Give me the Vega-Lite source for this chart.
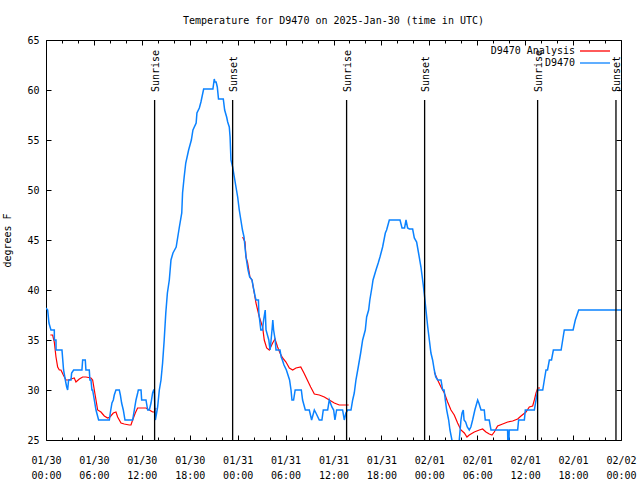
{
  "$schema": "https://vega.github.io/schema/vega-lite/v6.json",
  "width": 575,
  "height": 400,
  "autosize": {"type": "none"},
  "padding": {"left": 46, "top": 40, "right": 19, "bottom": 40},
  "background": "white",
  "title": {"text": "Temperature for D9470 on 2025-Jan-30 (time in UTC)", "font": "DejaVu Sans Mono", "fontSize": 10, "fontWeight": "normal", "color": "black", "offset": 9},
  "config": {
    "view": {"stroke": "black", "strokeWidth": 1},
    "axis": {"domain": false, "grid": false, "tickColor": "black", "labelColor": "black", "labelFont": "DejaVu Sans Mono", "labelFontSize": 10, "titleFont": "DejaVu Sans Mono", "titleFontSize": 10, "titleFontWeight": "normal", "titleColor": "black", "labelFlush": false, "labelOverlap": false},
    "legend": {"orient": "none", "legendX": 544, "legendY": 6, "symbolType": "M-5,0H5", "symbolSize": 36, "symbolStrokeWidth": 1.3, "labelAlign": "right", "labelOffset": -25, "labelFont": "DejaVu Sans Mono", "labelFontSize": 10, "labelColor": "black", "rowPadding": 2, "padding": 0}
  },
  "datasets": {
    "obs": [
      {"hour": 0.0, "temp": 38.2}, {"hour": 0.21, "temp": 38}, {"hour": 0.37, "temp": 36.7}, {"hour": 0.62, "temp": 36}, {"hour": 1.04, "temp": 36}, {"hour": 1.05, "temp": 35}, {"hour": 1.25, "temp": 35}, {"hour": 1.26, "temp": 34}, {"hour": 2.0, "temp": 34}, {"hour": 2.1, "temp": 33}, {"hour": 2.2, "temp": 32}, {"hour": 2.42, "temp": 31}, {"hour": 2.59, "temp": 30.3}, {"hour": 2.71, "temp": 30}, {"hour": 2.83, "temp": 31}, {"hour": 3.13, "temp": 31}, {"hour": 3.21, "temp": 31.7}, {"hour": 3.46, "temp": 32}, {"hour": 4.5, "temp": 32}, {"hour": 4.59, "temp": 33}, {"hour": 4.92, "temp": 33}, {"hour": 5.0, "temp": 32}, {"hour": 5.42, "temp": 32}, {"hour": 5.5, "temp": 31}, {"hour": 5.63, "temp": 31}, {"hour": 5.75, "temp": 30}, {"hour": 5.84, "temp": 30}, {"hour": 6.05, "temp": 29}, {"hour": 6.26, "temp": 28}, {"hour": 6.59, "temp": 27}, {"hour": 7.93, "temp": 27}, {"hour": 8.05, "temp": 27.7}, {"hour": 8.26, "temp": 28.7}, {"hour": 8.43, "temp": 29}, {"hour": 8.55, "temp": 29.5}, {"hour": 8.76, "temp": 30}, {"hour": 9.18, "temp": 30}, {"hour": 9.31, "temp": 29.5}, {"hour": 9.47, "temp": 28.7}, {"hour": 9.68, "temp": 28}, {"hour": 9.89, "temp": 27}, {"hour": 10.85, "temp": 27}, {"hour": 11.06, "temp": 28}, {"hour": 11.27, "temp": 29}, {"hour": 11.48, "temp": 29.7}, {"hour": 11.56, "temp": 30}, {"hour": 11.9, "temp": 30}, {"hour": 11.98, "temp": 29}, {"hour": 12.52, "temp": 29}, {"hour": 12.73, "temp": 28}, {"hour": 12.94, "temp": 28}, {"hour": 13.15, "temp": 28.7}, {"hour": 13.35, "temp": 29.7}, {"hour": 13.48, "temp": 30}, {"hour": 13.56, "temp": 30}, {"hour": 13.69, "temp": 27}, {"hour": 13.85, "temp": 27.7}, {"hour": 13.98, "temp": 28.3}, {"hour": 14.19, "temp": 30}, {"hour": 14.4, "temp": 31}, {"hour": 14.6, "temp": 32.7}, {"hour": 14.8, "temp": 35}, {"hour": 15.0, "temp": 37.7}, {"hour": 15.2, "temp": 39.7}, {"hour": 15.44, "temp": 41}, {"hour": 15.65, "temp": 43}, {"hour": 15.9, "temp": 43.7}, {"hour": 16.3, "temp": 44.3}, {"hour": 16.7, "temp": 46.3}, {"hour": 17.0, "temp": 47.7}, {"hour": 17.1, "temp": 49.7}, {"hour": 17.3, "temp": 51.3}, {"hour": 17.5, "temp": 52.7}, {"hour": 17.86, "temp": 54}, {"hour": 18.2, "temp": 55}, {"hour": 18.4, "temp": 56}, {"hour": 18.8, "temp": 56.7}, {"hour": 18.9, "temp": 57.7}, {"hour": 19.2, "temp": 58.2}, {"hour": 19.4, "temp": 58.8}, {"hour": 19.74, "temp": 60.1}, {"hour": 20.9, "temp": 60.1}, {"hour": 21.07, "temp": 61.1}, {"hour": 21.15, "temp": 60.8}, {"hour": 21.3, "temp": 60.8}, {"hour": 21.45, "temp": 60.3}, {"hour": 21.6, "temp": 59.1}, {"hour": 22.2, "temp": 59.1}, {"hour": 22.37, "temp": 58}, {"hour": 22.62, "temp": 57.3}, {"hour": 22.75, "temp": 56.8}, {"hour": 22.95, "temp": 56.3}, {"hour": 23.05, "temp": 55.3}, {"hour": 23.16, "temp": 53}, {"hour": 23.37, "temp": 52.3}, {"hour": 23.58, "temp": 51.3}, {"hour": 23.79, "temp": 50.3}, {"hour": 24.0, "temp": 49.3}, {"hour": 24.2, "temp": 48}, {"hour": 24.4, "temp": 47}, {"hour": 24.6, "temp": 46}, {"hour": 24.8, "temp": 45.3}, {"hour": 24.95, "temp": 44}, {"hour": 25.1, "temp": 43}, {"hour": 25.3, "temp": 42}, {"hour": 25.5, "temp": 41.3}, {"hour": 25.8, "temp": 41}, {"hour": 25.95, "temp": 40.3}, {"hour": 26.2, "temp": 39.3}, {"hour": 26.3, "temp": 39}, {"hour": 26.6, "temp": 39}, {"hour": 26.65, "temp": 37.7}, {"hour": 26.9, "temp": 36}, {"hour": 27.1, "temp": 36}, {"hour": 27.25, "temp": 37}, {"hour": 27.45, "temp": 38}, {"hour": 27.55, "temp": 36}, {"hour": 27.9, "temp": 35}, {"hour": 28.05, "temp": 34}, {"hour": 28.15, "temp": 34.7}, {"hour": 28.3, "temp": 36}, {"hour": 28.4, "temp": 37}, {"hour": 28.5, "temp": 36}, {"hour": 28.7, "temp": 35}, {"hour": 28.8, "temp": 34}, {"hour": 29.3, "temp": 34}, {"hour": 29.45, "temp": 33.3}, {"hour": 29.6, "temp": 33}, {"hour": 29.8, "temp": 32.5}, {"hour": 30.1, "temp": 32}, {"hour": 30.5, "temp": 31}, {"hour": 30.68, "temp": 30}, {"hour": 30.8, "temp": 29}, {"hour": 31.0, "temp": 29}, {"hour": 31.2, "temp": 30}, {"hour": 31.97, "temp": 30}, {"hour": 32.13, "temp": 29}, {"hour": 32.47, "temp": 28}, {"hour": 32.97, "temp": 28}, {"hour": 33.26, "temp": 27}, {"hour": 33.6, "temp": 28}, {"hour": 33.8, "temp": 27.7}, {"hour": 34.22, "temp": 27}, {"hour": 34.55, "temp": 27}, {"hour": 34.72, "temp": 28}, {"hour": 35.27, "temp": 28}, {"hour": 35.47, "temp": 29}, {"hour": 35.8, "temp": 28.3}, {"hour": 36.02, "temp": 28}, {"hour": 36.18, "temp": 27}, {"hour": 36.39, "temp": 28}, {"hour": 37.14, "temp": 28}, {"hour": 37.35, "temp": 27}, {"hour": 37.55, "temp": 27.7}, {"hour": 37.77, "temp": 28}, {"hour": 38.19, "temp": 28}, {"hour": 38.4, "temp": 29}, {"hour": 38.6, "temp": 29.7}, {"hour": 38.81, "temp": 31}, {"hour": 39.1, "temp": 32.3}, {"hour": 39.4, "temp": 33.7}, {"hour": 39.65, "temp": 35}, {"hour": 39.98, "temp": 36}, {"hour": 40.15, "temp": 37.3}, {"hour": 40.4, "temp": 38}, {"hour": 40.55, "temp": 39}, {"hour": 40.82, "temp": 40.3}, {"hour": 40.95, "temp": 41}, {"hour": 41.32, "temp": 42}, {"hour": 41.6, "temp": 42.7}, {"hour": 41.82, "temp": 43.3}, {"hour": 42.15, "temp": 44.3}, {"hour": 42.49, "temp": 45.7}, {"hour": 42.65, "temp": 46}, {"hour": 42.99, "temp": 47}, {"hour": 44.33, "temp": 47}, {"hour": 44.58, "temp": 46.2}, {"hour": 44.9, "temp": 46.2}, {"hour": 45.08, "temp": 47}, {"hour": 45.28, "temp": 46.2}, {"hour": 45.5, "temp": 46.1}, {"hour": 45.91, "temp": 46.1}, {"hour": 46.12, "temp": 45.2}, {"hour": 46.41, "temp": 44.8}, {"hour": 46.65, "temp": 43.7}, {"hour": 46.95, "temp": 42.3}, {"hour": 47.24, "temp": 40.5}, {"hour": 47.41, "temp": 39.3}, {"hour": 47.58, "temp": 38}, {"hour": 47.8, "temp": 36.3}, {"hour": 48.0, "temp": 35}, {"hour": 48.2, "temp": 33.7}, {"hour": 48.41, "temp": 33}, {"hour": 48.62, "temp": 32}, {"hour": 48.8, "temp": 31.3}, {"hour": 49.04, "temp": 31}, {"hour": 49.46, "temp": 31}, {"hour": 49.67, "temp": 30}, {"hour": 49.85, "temp": 30}, {"hour": 50.0, "temp": 29}, {"hour": 50.17, "temp": 28}, {"hour": 50.42, "temp": 27}, {"hour": 50.58, "temp": 26}, {"hour": 50.83, "temp": 25}, {"hour": 51.0, "temp": 24}, {"hour": 51.6, "temp": 24}, {"hour": 51.75, "temp": 25}, {"hour": 51.96, "temp": 27}, {"hour": 52.1, "temp": 27.7}, {"hour": 52.25, "temp": 28}, {"hour": 52.35, "temp": 27}, {"hour": 52.55, "temp": 26.8}, {"hour": 52.75, "temp": 26.3}, {"hour": 53.0, "temp": 26}, {"hour": 53.2, "temp": 26.3}, {"hour": 53.42, "temp": 27}, {"hour": 53.7, "temp": 28}, {"hour": 54.05, "temp": 29}, {"hour": 54.2, "temp": 28.7}, {"hour": 54.47, "temp": 28}, {"hour": 54.88, "temp": 28}, {"hour": 55.0, "temp": 27}, {"hour": 55.5, "temp": 27}, {"hour": 55.72, "temp": 26}, {"hour": 57.8, "temp": 26}, {"hour": 57.85, "temp": 24}, {"hour": 57.95, "temp": 24}, {"hour": 58.0, "temp": 26}, {"hour": 59.06, "temp": 26}, {"hour": 59.18, "temp": 27}, {"hour": 59.9, "temp": 27}, {"hour": 60.02, "temp": 28}, {"hour": 61.15, "temp": 28}, {"hour": 61.36, "temp": 29}, {"hour": 61.57, "temp": 30}, {"hour": 62.2, "temp": 30}, {"hour": 62.4, "temp": 31}, {"hour": 62.61, "temp": 32}, {"hour": 62.8, "temp": 32}, {"hour": 63.03, "temp": 33}, {"hour": 63.3, "temp": 33}, {"hour": 63.53, "temp": 34}, {"hour": 64.5, "temp": 34}, {"hour": 64.7, "temp": 35}, {"hour": 64.9, "temp": 36}, {"hour": 66.0, "temp": 36}, {"hour": 66.28, "temp": 37}, {"hour": 66.7, "temp": 38}, {"hour": 72.0, "temp": 38}
    ],
    "ana": [
      {"seg": 1, "hour": 0.55, "temp": 35.5}, {"seg": 1, "hour": 0.83, "temp": 35.5}, {"seg": 1, "hour": 1.04, "temp": 34.8}, {"seg": 1, "hour": 1.25, "temp": 33.3}, {"seg": 1, "hour": 1.46, "temp": 32.3}, {"seg": 1, "hour": 1.67, "temp": 32}, {"seg": 1, "hour": 1.87, "temp": 32}, {"seg": 1, "hour": 2.17, "temp": 31.5}, {"seg": 1, "hour": 2.5, "temp": 31}, {"seg": 1, "hour": 2.92, "temp": 31}, {"seg": 1, "hour": 3.13, "temp": 31.1}, {"seg": 1, "hour": 3.54, "temp": 31.2}, {"seg": 1, "hour": 3.75, "temp": 30.8}, {"seg": 1, "hour": 4.17, "temp": 31.1}, {"seg": 1, "hour": 4.59, "temp": 31.3}, {"seg": 1, "hour": 5.0, "temp": 31.3}, {"seg": 1, "hour": 5.63, "temp": 31.2}, {"seg": 1, "hour": 5.84, "temp": 31}, {"seg": 1, "hour": 6.05, "temp": 30}, {"seg": 1, "hour": 6.26, "temp": 29}, {"seg": 1, "hour": 6.47, "temp": 28}, {"seg": 1, "hour": 6.88, "temp": 27.8}, {"seg": 1, "hour": 7.3, "temp": 27.4}, {"seg": 1, "hour": 7.72, "temp": 27.2}, {"seg": 1, "hour": 8.01, "temp": 27.3}, {"seg": 1, "hour": 8.43, "temp": 27.7}, {"seg": 1, "hour": 8.76, "temp": 27.8}, {"seg": 1, "hour": 8.97, "temp": 27.3}, {"seg": 1, "hour": 9.39, "temp": 26.7}, {"seg": 1, "hour": 9.8, "temp": 26.6}, {"seg": 1, "hour": 10.43, "temp": 26.5}, {"seg": 1, "hour": 10.64, "temp": 26.5}, {"seg": 1, "hour": 10.85, "temp": 27}, {"seg": 1, "hour": 11.18, "temp": 27.7}, {"seg": 1, "hour": 11.47, "temp": 28.2}, {"seg": 1, "hour": 12.1, "temp": 28.2}, {"seg": 1, "hour": 12.52, "temp": 28.2}, {"seg": 1, "hour": 12.94, "temp": 28}, {"seg": 1, "hour": 13.35, "temp": 27.8}, {"seg": 1, "hour": 13.56, "temp": 27.8}, {"seg": 1, "hour": 13.77, "temp": 28.2},
      {"seg": 2, "hour": 24.62, "temp": 45.3}, {"seg": 2, "hour": 24.92, "temp": 44.8}, {"seg": 2, "hour": 25.04, "temp": 43.3}, {"seg": 2, "hour": 25.25, "temp": 42.7}, {"seg": 2, "hour": 25.54, "temp": 41.3}, {"seg": 2, "hour": 25.79, "temp": 41}, {"seg": 2, "hour": 26.08, "temp": 39.7}, {"seg": 2, "hour": 26.29, "temp": 38.7}, {"seg": 2, "hour": 26.71, "temp": 37.3}, {"seg": 2, "hour": 27.12, "temp": 36.3}, {"seg": 2, "hour": 27.33, "temp": 35}, {"seg": 2, "hour": 27.63, "temp": 34.2}, {"seg": 2, "hour": 27.96, "temp": 34}, {"seg": 2, "hour": 28.38, "temp": 34.7}, {"seg": 2, "hour": 28.67, "temp": 35.1}, {"seg": 2, "hour": 29.0, "temp": 34.3}, {"seg": 2, "hour": 29.3, "temp": 33.7}, {"seg": 2, "hour": 29.63, "temp": 33.2}, {"seg": 2, "hour": 30.05, "temp": 32.8}, {"seg": 2, "hour": 30.47, "temp": 32.2}, {"seg": 2, "hour": 30.89, "temp": 32}, {"seg": 2, "hour": 31.3, "temp": 32.2}, {"seg": 2, "hour": 31.9, "temp": 32.3}, {"seg": 2, "hour": 32.3, "temp": 31.7}, {"seg": 2, "hour": 32.72, "temp": 31}, {"seg": 2, "hour": 33.14, "temp": 30.3}, {"seg": 2, "hour": 33.6, "temp": 29.6}, {"seg": 2, "hour": 34.22, "temp": 29.5}, {"seg": 2, "hour": 34.85, "temp": 29.3}, {"seg": 2, "hour": 35.47, "temp": 29.0}, {"seg": 2, "hour": 36.1, "temp": 28.7}, {"seg": 2, "hour": 36.72, "temp": 28.5}, {"seg": 2, "hour": 37.9, "temp": 28.5},
      {"seg": 3, "hour": 48.62, "temp": 31.8}, {"seg": 3, "hour": 49.04, "temp": 31}, {"seg": 3, "hour": 49.46, "temp": 30.3}, {"seg": 3, "hour": 49.88, "temp": 29.7}, {"seg": 3, "hour": 50.29, "temp": 28.8}, {"seg": 3, "hour": 50.71, "temp": 28}, {"seg": 3, "hour": 51.12, "temp": 27.5}, {"seg": 3, "hour": 51.54, "temp": 26.7}, {"seg": 3, "hour": 51.96, "temp": 26}, {"seg": 3, "hour": 52.38, "temp": 25.7}, {"seg": 3, "hour": 52.71, "temp": 25.3}, {"seg": 3, "hour": 53.0, "temp": 25.5}, {"seg": 3, "hour": 53.63, "temp": 25.8}, {"seg": 3, "hour": 54.26, "temp": 26}, {"seg": 3, "hour": 54.67, "temp": 26.1}, {"seg": 3, "hour": 55.09, "temp": 25.8}, {"seg": 3, "hour": 55.51, "temp": 25.6}, {"seg": 3, "hour": 55.84, "temp": 25.5}, {"seg": 3, "hour": 56.13, "temp": 25.8}, {"seg": 3, "hour": 56.55, "temp": 26.4}, {"seg": 3, "hour": 57.18, "temp": 26.6}, {"seg": 3, "hour": 57.81, "temp": 26.8}, {"seg": 3, "hour": 58.43, "temp": 26.9}, {"seg": 3, "hour": 59.06, "temp": 27.1}, {"seg": 3, "hour": 59.48, "temp": 27.4}, {"seg": 3, "hour": 60.1, "temp": 27.8}, {"seg": 3, "hour": 60.52, "temp": 28.3}, {"seg": 3, "hour": 60.94, "temp": 28.4}, {"seg": 3, "hour": 61.15, "temp": 29}, {"seg": 3, "hour": 61.36, "temp": 29.7}, {"seg": 3, "hour": 61.57, "temp": 30.2}, {"seg": 3, "hour": 61.86, "temp": 30.2}
    ],
    "sun": [
      {"event": "Sunrise", "hour": 13.6},
      {"event": "Sunset", "hour": 23.37},
      {"event": "Sunrise", "hour": 37.64},
      {"event": "Sunset", "hour": 47.41},
      {"event": "Sunrise", "hour": 61.56},
      {"event": "Sunset", "hour": 71.37}
    ]
  },
  "layer": [
    {
      "data": {"name": "ana"},
      "mark": {"type": "line", "strokeWidth": 1.2, "clip": true},
      "encoding": {
        "x": {"field": "hour", "type": "quantitative", "scale": {"domain": [0, 72], "nice": false, "zero": false},
              "axis": {"orient": "bottom", "values": [0, 6, 12, 18, 24, 30, 36, 42, 48, 54, 60, 66, 72], "tickSize": -5, "labelPadding": 20, "labelLineHeight": 15, "title": null,
                       "labelExpr": "[utcFormat(1738195200000 + datum.value * 3600000, '%m/%d'), utcFormat(1738195200000 + datum.value * 3600000, '%H:%M')]"}},
        "y": {"field": "temp", "type": "quantitative", "scale": {"domain": [25, 65], "nice": false, "zero": false},
              "axis": {"orient": "left", "values": [25, 30, 35, 40, 45, 50, 55, 60, 65], "tickSize": -5, "labelPadding": 12, "title": "degrees F", "titlePadding": 14}},
        "detail": {"field": "seg", "type": "nominal"},
        "color": {"datum": "D9470 Analysis", "scale": {"domain": ["D9470 Analysis", "D9470"], "range": ["#ff0000", "#0a82ff"]}, "legend": {"title": null}}
      }
    },
    {
      "data": {"name": "obs"},
      "mark": {"type": "line", "strokeWidth": 1.5, "clip": true},
      "encoding": {
        "x": {"field": "hour", "type": "quantitative", "axis": {"orient": "top", "values": [0, 6, 12, 18, 24, 30, 36, 42, 48, 54, 60, 66, 72], "tickSize": -5, "labels": false, "title": null}},
        "y": {"field": "temp", "type": "quantitative", "axis": {"orient": "right", "values": [25, 30, 35, 40, 45, 50, 55, 60, 65], "tickSize": -5, "labels": false, "title": null}},
        "color": {"datum": "D9470"}
      }
    },
    {
      "data": {"name": "sun"},
      "mark": {"type": "rule", "color": "black", "strokeWidth": 1.3},
      "encoding": {
        "x": {"field": "hour", "type": "quantitative", "axis": {"orient": "bottom", "values": [2, 4, 8, 10, 14, 16, 20, 22, 26, 28, 32, 34, 38, 40, 44, 46, 50, 52, 56, 58, 62, 64, 68, 70], "tickSize": -3, "labels": false, "title": null}},
        "y": {"datum": 25, "type": "quantitative", "axis": null},
        "y2": {"datum": 59}
      }
    },
    {
      "data": {"name": "sun"},
      "mark": {"type": "text", "angle": 270, "align": "left", "baseline": "middle", "dy": 1.5, "font": "DejaVu Sans Mono", "fontSize": 10, "color": "black"},
      "encoding": {
        "x": {"field": "hour", "type": "quantitative", "axis": {"orient": "top", "values": [2, 4, 8, 10, 14, 16, 20, 22, 26, 28, 32, 34, 38, 40, 44, 46, 50, 52, 56, 58, 62, 64, 68, 70], "tickSize": -3, "labels": false, "title": null}},
        "y": {"datum": 59.8, "type": "quantitative", "axis": null},
        "text": {"field": "event"}
      }
    }
  ],
  "resolve": {"axis": {"x": "independent", "y": "independent"}}
}
